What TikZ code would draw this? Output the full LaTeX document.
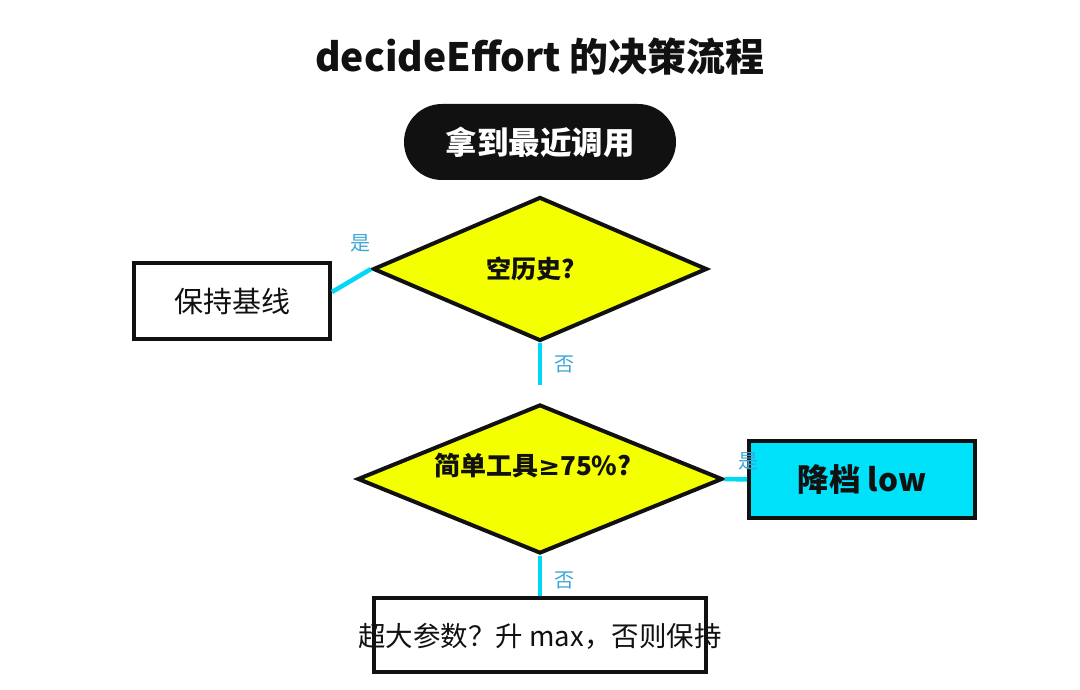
\documentclass[tikz,border=0pt]{standalone}
\usepackage{fontspec}
\setmainfont{Noto Sans CJK SC}
\newfontfamily\symfont{DejaVu Sans}
\usetikzlibrary{shapes.geometric,calc}
\definecolor{dyellow}{HTML}{F4FF00}
\definecolor{lowcyan}{HTML}{00E1FA}
\definecolor{linecyan}{HTML}{00D8F5}
\definecolor{lblblue}{HTML}{3EA6D6}
\definecolor{ink}{HTML}{111111}
\begin{document}
\begin{tikzpicture}[x=1pt,y=-1pt,
  pill/.style={draw=ink,fill=ink,text=white,rounded corners=37pt,minimum width=270pt,minimum height=74pt,font=\fontsize{31.5}{34}\selectfont\bfseries,line width=2pt},
  decision/.style={diamond,aspect=2.4,draw=ink,fill=dyellow,line width=4pt,inner sep=0pt},
  dtext/.style={font=\fontsize{25}{27}\selectfont\bfseries,text=ink,inner sep=0pt},
  plainbox/.style={draw=ink,fill=white,line width=4pt,inner sep=0pt,text=ink},
  conn/.style={draw=linecyan,line width=4.5pt},
  lbl/.style={text=lblblue,font=\fontsize{20}{22}\selectfont,inner sep=0pt}]
\useasboundingbox (0,0) rectangle (1080,690);
\node[font=\fontsize{39}{42}\selectfont\bfseries,text=ink] (title) at (540,57) {decideEffort 的决策流程};
\node[pill] (start) at (540,142) {拿到最近调用};
\node[decision,minimum width=334pt,minimum height=144pt] (d1) at (540,269) {};
\node[dtext] (d1t) at (531,269) {空历史?};
\node[plainbox,minimum width=196pt,minimum height=76pt,font=\fontsize{29}{32}\selectfont] (keep) at (232,301) {保持基线};
\node[decision,minimum width=365pt,minimum height=149pt] (d2) at (540,479) {};
\node[dtext,font=\fontsize{26}{28}\selectfont\bfseries] (d2t) at (533,466) {简单工具{\symfont\bfseries ≥}75\%?};
\node[plainbox,fill=lowcyan,minimum width=226pt,minimum height=77pt,font=\fontsize{31.5}{34}\selectfont\bfseries] (low) at (862,479.5) {降档 low};
\node[plainbox,minimum width=332pt,minimum height=74pt] (big) at (540,635) {};
\node[font=\fontsize{27.5}{30}\selectfont,text=ink,inner sep=0pt] (bigtxt) at (540,636) {超大参数？升 max，否则保持};
\coordinate (d1end) at (540,385);
\draw[conn] (d1.west) -- ([yshift=9pt]keep.east);
\node[lbl] (l1) at (360,243) {是};
\draw[conn] (d1.south) -- (d1end);
\node[lbl] (l2) at (564,364) {否};
\draw[conn] (d2.east) -- (low.west);
\node[lbl] (l3) at (748,461) {是};
\draw[conn] (d2.south) -- (big.north);
\node[lbl] (l4) at (564,580) {否};
\end{tikzpicture}
\end{document}
